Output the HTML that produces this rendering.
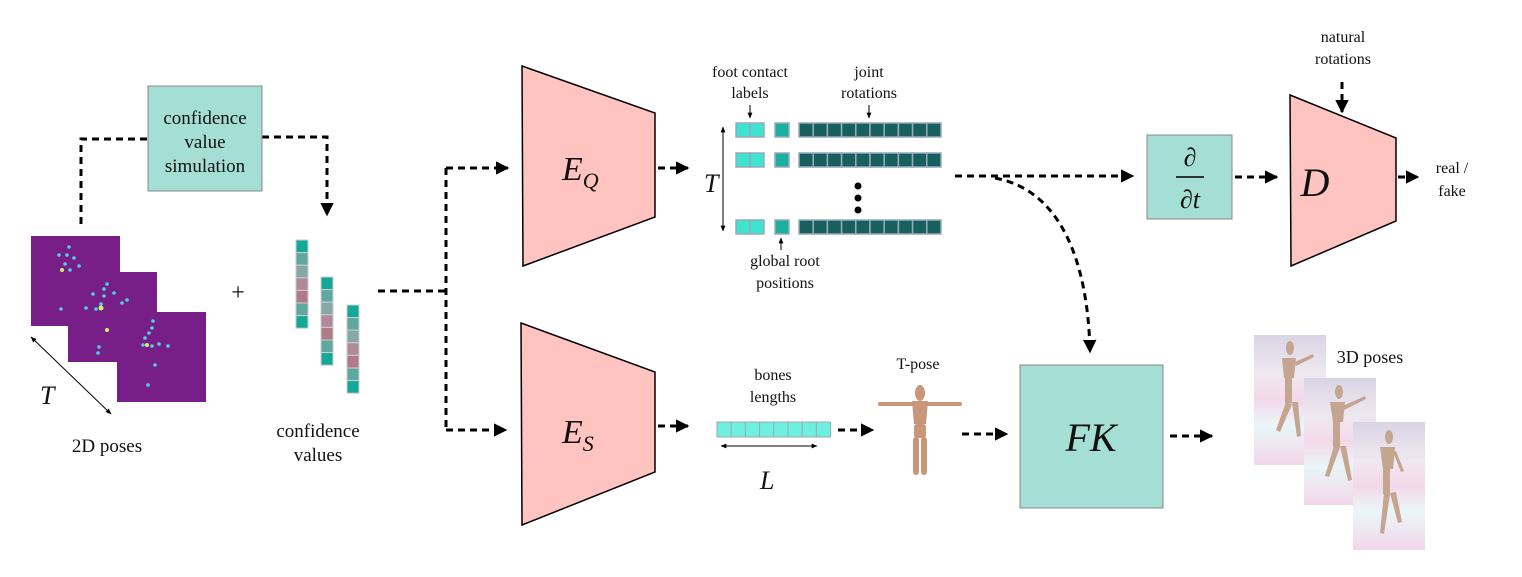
<!DOCTYPE html>
<html><head><meta charset="utf-8"><style>
html,body{margin:0;padding:0;background:#fff;}
svg{display:block;}
text{font-family:"Liberation Serif",serif;fill:#111;}
.it{font-style:italic;}
</style></head><body>
<svg width="1522" height="577" viewBox="0 0 1522 577" xmlns="http://www.w3.org/2000/svg">
<defs>
<marker id="a" viewBox="0 0 10 10" refX="9" refY="5" markerWidth="4.5" markerHeight="4.5" orient="auto"><path d="M0,0L10,5L0,10z" fill="#000"/></marker>
<marker id="s" viewBox="0 0 10 10" refX="9" refY="5" markerWidth="6" markerHeight="6" orient="auto"><path d="M0,1L10,5L0,9z" fill="#000"/></marker>
<marker id="s2" viewBox="0 0 10 10" refX="1" refY="5" markerWidth="6" markerHeight="6" orient="auto"><path d="M10,1L0,5L10,9z" fill="#000"/></marker>
</defs>
<g fill="none" stroke="#000" stroke-width="3" stroke-dasharray="7,5">
<path d="M81,224V139H148"/>
<path d="M262,137H327V215" marker-end="url(#a)"/>
<path d="M378,291H446"/>
<path d="M446,168V430"/>
<path d="M446,168H508" marker-end="url(#a)"/>
<path d="M446,430H506" marker-end="url(#a)"/>
<path d="M658,168H688" marker-end="url(#a)"/>
<path d="M955,176H1133" marker-end="url(#a)"/>
<path d="M995,178C1060,190 1088,260 1090,352" marker-end="url(#a)"/>
<path d="M1235,177H1277" marker-end="url(#a)"/>
<path d="M1342,82V112" marker-end="url(#a)"/>
<path d="M1398,177H1418" marker-end="url(#a)"/>
<path d="M658,426H688" marker-end="url(#a)"/>
<path d="M838,430H873" marker-end="url(#a)"/>
<path d="M962,434H1007" marker-end="url(#a)"/>
<path d="M1170,436H1212" marker-end="url(#a)"/>
</g>
<!-- confidence box -->
<rect x="148" y="86" width="114" height="105" fill="#a5ded4" stroke="#888" stroke-width="1"/>
<text x="205" y="124" font-size="19" text-anchor="middle">confidence</text>
<text x="205" y="148" font-size="19" text-anchor="middle">value</text>
<text x="205" y="172" font-size="19" text-anchor="middle">simulation</text>
<!-- 2D poses -->
<rect x="31" y="236" width="89" height="90" fill="#781e88"/>
<rect x="68" y="272" width="89" height="90" fill="#781e88"/>
<rect x="117" y="312" width="89" height="90" fill="#781e88"/>
<g fill="#4fd0e0">
<circle cx="69" cy="247" r="1.8"/><circle cx="67" cy="255" r="1.8"/><circle cx="59" cy="255" r="1.8"/><circle cx="74" cy="258" r="1.8"/><circle cx="65" cy="264" r="1.8"/><circle cx="70" cy="270" r="1.8"/><circle cx="79" cy="266" r="1.8"/><circle cx="62" cy="270" r="2" fill="#d8f060"/>
<circle cx="61" cy="309" r="1.8"/><circle cx="107" cy="284" r="1.8"/><circle cx="104" cy="289" r="1.8"/><circle cx="104" cy="296" r="1.8"/><circle cx="114" cy="293" r="1.8"/><circle cx="93" cy="294" r="1.8"/><circle cx="101" cy="304" r="1.8"/><circle cx="127" cy="300" r="1.8"/><circle cx="122" cy="303" r="1.8"/><circle cx="86" cy="308" r="1.8"/><circle cx="96" cy="309" r="1.8"/><circle cx="101" cy="308" r="2.5" fill="#d8f060"/><circle cx="107" cy="330" r="2" fill="#d8f060"/><circle cx="99" cy="347" r="1.8"/><circle cx="98" cy="353" r="1.8"/>
<circle cx="153" cy="321" r="1.8"/><circle cx="152" cy="328" r="1.8"/><circle cx="149" cy="333" r="1.8"/><circle cx="145" cy="338" r="1.8"/><circle cx="143" cy="345" r="1.8"/><circle cx="147" cy="345" r="2" fill="#d8f060"/><circle cx="152" cy="346" r="1.8"/><circle cx="159" cy="344" r="1.8"/><circle cx="168" cy="346" r="1.8"/><circle cx="155" cy="365" r="1.8"/><circle cx="148" cy="385" r="1.8"/>
</g>
<line x1="31" y1="337" x2="111" y2="414" stroke="#000" stroke-width="1" marker-start="url(#s2)" marker-end="url(#s)"/>
<text x="40" y="404" font-size="26" class="it">T</text>
<text x="107" y="452" font-size="19" text-anchor="middle">2D poses</text>
<text x="238" y="300" font-size="24" text-anchor="middle" fill="#333">+</text>
<!-- confidence columns -->
<g stroke="#ccc" stroke-width="1">
<g transform="translate(296,240)">
<rect y="0" width="12" height="12.6" fill="#14a898"/><rect y="12.6" width="12" height="12.6" fill="#5fa8a0"/><rect y="25.2" width="12" height="12.6" fill="#88a8a8"/><rect y="37.8" width="12" height="12.6" fill="#b08a98"/><rect y="50.4" width="12" height="12.6" fill="#b07a8a"/><rect y="63" width="12" height="12.6" fill="#5fa8a0"/><rect y="75.6" width="12" height="12.6" fill="#14a898"/></g>
<g transform="translate(321,277)">
<rect y="0" width="12" height="12.6" fill="#14a898"/><rect y="12.6" width="12" height="12.6" fill="#5fa8a0"/><rect y="25.2" width="12" height="12.6" fill="#88a8a8"/><rect y="37.8" width="12" height="12.6" fill="#b08a98"/><rect y="50.4" width="12" height="12.6" fill="#b07a8a"/><rect y="63" width="12" height="12.6" fill="#5fa8a0"/><rect y="75.6" width="12" height="12.6" fill="#14a898"/></g>
<g transform="translate(347,305)">
<rect y="0" width="12" height="12.6" fill="#14a898"/><rect y="12.6" width="12" height="12.6" fill="#5fa8a0"/><rect y="25.2" width="12" height="12.6" fill="#88a8a8"/><rect y="37.8" width="12" height="12.6" fill="#b08a98"/><rect y="50.4" width="12" height="12.6" fill="#b07a8a"/><rect y="63" width="12" height="12.6" fill="#5fa8a0"/><rect y="75.6" width="12" height="12.6" fill="#14a898"/></g>
</g>
<text x="318" y="437" font-size="19" text-anchor="middle">confidence</text>
<text x="318" y="461" font-size="19" text-anchor="middle">values</text>
<!-- E_Q -->
<polygon points="522,66 655,113 655,217 523,266" fill="#ffc4c0" stroke="#000" stroke-width="1.5"/>
<text x="562" y="180" font-size="34" class="it">E<tspan font-size="22" dy="8">Q</tspan></text>
<!-- E_S -->
<polygon points="521,323 655,372 655,472 522,525" fill="#ffc4c0" stroke="#000" stroke-width="1.5"/>
<text x="562" y="443" font-size="34" class="it">E<tspan font-size="22" dy="8">S</tspan></text>
<!-- matrix -->
<text x="704" y="192" font-size="26" class="it">T</text>
<line x1="723" y1="127" x2="723" y2="231" stroke="#000" stroke-width="1" marker-start="url(#s2)" marker-end="url(#s)"/>
<g stroke="#9ab" stroke-width="1.5">
<g id="row">
<rect x="736" y="123" width="14" height="14" fill="#3de4d0"/><rect x="750" y="123" width="14" height="14" fill="#3de4d0"/>
<rect x="775" y="123" width="14" height="14" fill="#1ab0a0"/>
<rect x="799" y="123" width="14.2" height="14" fill="#17605f"/><rect x="813.2" y="123" width="14.2" height="14" fill="#17605f"/><rect x="827.4" y="123" width="14.2" height="14" fill="#17605f"/><rect x="841.6" y="123" width="14.2" height="14" fill="#17605f"/><rect x="855.8" y="123" width="14.2" height="14" fill="#17605f"/><rect x="870" y="123" width="14.2" height="14" fill="#17605f"/><rect x="884.2" y="123" width="14.2" height="14" fill="#17605f"/><rect x="898.4" y="123" width="14.2" height="14" fill="#17605f"/><rect x="912.6" y="123" width="14.2" height="14" fill="#17605f"/><rect x="926.8" y="123" width="14.2" height="14" fill="#17605f"/>
</g>
<use href="#row" y="30"/>
<use href="#row" y="97"/>
</g>
<circle cx="858" cy="186" r="3.5"/><circle cx="858" cy="198" r="3.5"/><circle cx="858" cy="210" r="3.5"/>
<text x="750" y="77" font-size="16" text-anchor="middle">foot contact</text>
<text x="750" y="98" font-size="16" text-anchor="middle">labels</text>
<line x1="750" y1="105" x2="750" y2="118" stroke="#000" stroke-width="1" marker-end="url(#s)"/>
<text x="869" y="77" font-size="16" text-anchor="middle">joint</text>
<text x="869" y="98" font-size="16" text-anchor="middle">rotations</text>
<line x1="869" y1="105" x2="869" y2="118" stroke="#000" stroke-width="1" marker-end="url(#s)"/>
<line x1="781" y1="250" x2="781" y2="238" stroke="#000" stroke-width="1" marker-end="url(#s)"/>
<text x="785" y="266" font-size="16" text-anchor="middle">global root</text>
<text x="785" y="288" font-size="16" text-anchor="middle">positions</text>
<!-- derivative -->
<rect x="1147" y="135" width="85" height="84" fill="#a5ded4" stroke="#888" stroke-width="1"/>
<text x="1190" y="166" font-size="26" text-anchor="middle" class="it">∂</text>
<line x1="1176" y1="177" x2="1204" y2="177" stroke="#000" stroke-width="1.5"/>
<text x="1190" y="208" font-size="26" text-anchor="middle" class="it">∂t</text>
<!-- D -->
<polygon points="1290,95 1396,138 1396,221 1291,266" fill="#ffc4c0" stroke="#000" stroke-width="1.5"/>
<text x="1315" y="196" font-size="40" text-anchor="middle" class="it">D</text>
<text x="1343" y="42" font-size="16" text-anchor="middle">natural</text>
<text x="1343" y="64" font-size="16" text-anchor="middle">rotations</text>
<text x="1452" y="173" font-size="16" text-anchor="middle">real /</text>
<text x="1452" y="196" font-size="16" text-anchor="middle">fake</text>
<!-- bones -->
<text x="773" y="380" font-size="16" text-anchor="middle">bones</text>
<text x="773" y="402" font-size="16" text-anchor="middle">lengths</text>
<g stroke="#9ab" stroke-width="1">
<rect x="717" y="422" width="14.2" height="15" fill="#6ff0de"/><rect x="731.2" y="422" width="14.2" height="15" fill="#6ff0de"/><rect x="745.4" y="422" width="14.2" height="15" fill="#6ff0de"/><rect x="759.6" y="422" width="14.2" height="15" fill="#6ff0de"/><rect x="773.8" y="422" width="14.2" height="15" fill="#6ff0de"/><rect x="788" y="422" width="14.2" height="15" fill="#6ff0de"/><rect x="802.2" y="422" width="14.2" height="15" fill="#6ff0de"/><rect x="816.4" y="422" width="14.2" height="15" fill="#6ff0de"/>
</g>
<line x1="721" y1="446" x2="817" y2="446" stroke="#000" stroke-width="1" marker-start="url(#s2)" marker-end="url(#s)"/>
<text x="760" y="489" font-size="26" class="it">L</text>
<!-- T-pose -->
<text x="918" y="369" font-size="16" text-anchor="middle">T-pose</text>
<g fill="#c8977a">
<ellipse cx="920" cy="393" rx="5" ry="8"/>
<rect x="878" y="402" width="84" height="4" rx="2"/>
<path d="M912,401H928L926,424H914Z"/>
<rect x="914" y="424" width="12" height="14" rx="3"/>
<rect x="913" y="437" width="6" height="38" rx="3"/>
<rect x="921" y="437" width="6" height="38" rx="3"/>
</g>
<!-- FK -->
<rect x="1020" y="365" width="143" height="143" fill="#a5ded4" stroke="#888" stroke-width="1"/>
<text x="1091" y="451" font-size="40" text-anchor="middle" class="it">FK</text>
<!-- 3D poses -->
<defs>
<linearGradient id="fl" x1="0" y1="0" x2="0" y2="1"><stop offset="0" stop-color="#d8d4e4"/><stop offset="0.3" stop-color="#f0e8f0"/><stop offset="0.5" stop-color="#f3d8ea"/><stop offset="0.7" stop-color="#eaf6f8"/><stop offset="1" stop-color="#f2d6ea"/></linearGradient>
</defs>
<g>
<rect x="1254" y="335" width="72" height="130" fill="url(#fl)"/>
<rect x="1304" y="378" width="72" height="127" fill="url(#fl)"/>
<rect x="1353" y="422" width="72" height="128" fill="url(#fl)"/>
</g>
<g fill="#c4a590">
<ellipse cx="1290" cy="348" rx="4" ry="7"/><path d="M1282,358h14l-2,20h-10z"/><rect x="1285" y="378" width="7" height="25"/><path d="M1286,402l-10,28l4,2l12,-28z"/><path d="M1292,402l5,35l4,-1l-3,-34z"/><path d="M1295,362l18,-8l1,3l-18,9z"/>
<ellipse cx="1339" cy="392" rx="4" ry="7"/><path d="M1330,402h15l-2,20h-10z"/><rect x="1333" y="422" width="7" height="25"/><path d="M1334,446l-9,30l4,1l11,-30z"/><path d="M1340,446l8,35l4,-1l-6,-34z"/><path d="M1343,406l22,-10l1,3l-22,11z"/>
<ellipse cx="1389" cy="437" rx="4" ry="7"/><path d="M1380,447h15l-2,22h-10z"/><rect x="1383" y="469" width="7" height="25"/><path d="M1384,493l-4,40l4,1l6,-40z"/><path d="M1390,493l8,30l4,-1l-6,-30z"/><path d="M1393,452l8,20l3,-1l-8,-20z"/>
</g>
<text x="1370" y="363" font-size="18" text-anchor="middle">3D poses</text>
</svg>
</body></html>
